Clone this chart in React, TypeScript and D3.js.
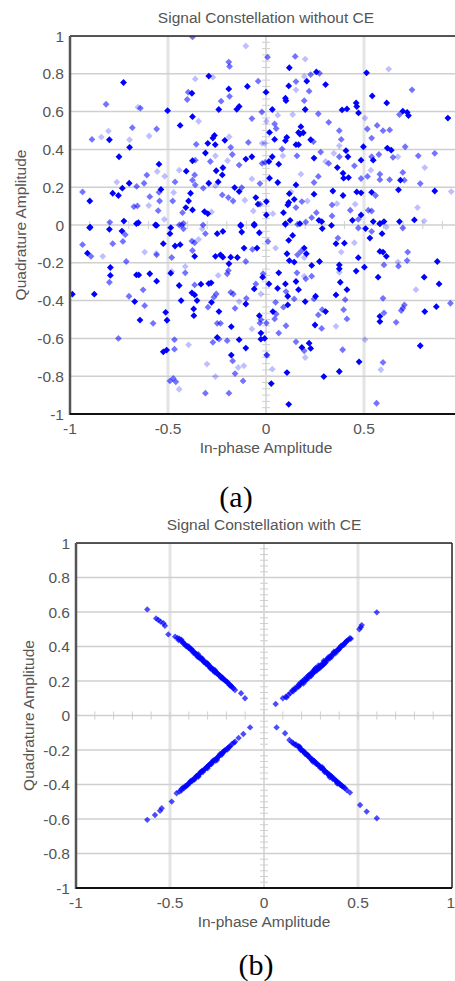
import React from 'react';
import * as d3 from 'd3';

// ---------- axis ticks ----------
const yTickValues = [-1, -0.8, -0.6, -0.4, -0.2, 0, 0.2, 0.4, 0.6, 0.8, 1];
const yTickLabels = ['-1', '-0.8', '-0.6', '-0.4', '-0.2', '0', '0.2', '0.4', '0.6', '0.8', '1'];
const xTickValues = [-1, -0.5, 0, 0.5, 1];
const xTickLabels = ['-1', '-0.5', '0', '0.5', '1'];

// ---------- (a) without CE : [I, Q] pairs grouped by marker shade ----------
const topDark: [number, number][] = [
  [-0.292,0.788],[-0.727,0.754],[-0.095,0.733],[-0.19,0.72],[-0.378,0.697],[-0.241,0.611],[-0.137,0.627],[-0.149,0.612],
  [-0.502,0.605],[-0.375,0.573],[-0.438,0.527],[-0.799,0.451],[-0.696,0.411],[-0.263,0.474],[-0.271,0.46],[-0.21,0.448],
  [-0.297,0.432],[-0.259,0.425],[-0.75,0.361],[-0.309,0.381],[-0.103,0.349],[-0.072,0.361],[-0.375,0.34],[-0.546,0.322],
  [-0.407,0.285],[-0.254,0.287],[-0.22,0.303],[-0.223,0.265],[-0.292,0.221],[-0.244,0.228],[-0.698,0.221],[-0.733,0.195],
  [-0.536,0.188],[-0.782,0.168],[-0.753,0.156],[-0.385,0.168],[-0.16,0.198],[-0.137,0.177],[-0.052,0.145],[-0.041,0.11],
  [-0.899,0.127],[-0.395,0.127],[-0.409,0.092],[-0.375,0.08],[-0.314,0.071],[-0.297,0.06],[-0.725,0.021],[-0.651,0.012],
  [-0.564,0.0],[-0.129,0.0],[-0.06,0.004],[-0.9,-0.014],
  [0.119,0.832],[0.513,0.805],[0.257,0.81],[0.208,0.761],[0.116,0.736],[0.304,0.743],[0.0,0.703],[0.099,0.671],[0.102,0.658],
  [0.542,0.683],[0.616,0.646],[0.46,0.646],[0.463,0.627],[0.388,0.609],[0.413,0.614],[0.472,0.593],[0.032,0.611],[0.2,0.611],
  [0.698,0.602],[0.72,0.596],[0.727,0.579],[0.928,0.566],[0.018,0.49],[0.178,0.52],[0.166,0.49],[0.19,0.488],[0.173,0.481],
  [0.106,0.464],[0.099,0.446],[0.044,0.453],[0.228,0.451],[0.166,0.425],[0.153,0.425],[0.497,0.414],[0.619,0.407],[0.639,0.396],
  [0.408,0.393],[0.032,0.361],[0.245,0.354],[0.418,0.361],[0.485,0.343],[0.547,0.343],[0.015,0.336],[0.065,0.322],[0.364,0.304],
  [0.393,0.274],[0.421,0.251],[0.396,0.248],[0.018,0.248],[0.686,0.237],[0.06,0.225],[0.153,0.212],[0.861,0.18],[0.676,0.186],
  [0.341,0.18],[0.463,0.175],[0.485,0.17],[0.119,0.166],[0.245,0.163],[0.393,0.156],[0.539,0.173],[0.002,0.124],[0.144,0.136],
  [0.116,0.119],[0.111,0.106],[0.089,0.065],[0.002,0.053],[0.485,0.053],[0.27,0.025],[0.284,0.018],[0.123,0.025],[0.099,0.004],
  [0.441,0.025],[0.547,0.018],[0.581,0.007],[0.602,0.018],[0.681,0.018],[0.757,0.027],
  [-0.897,-0.012],[-0.799,-0.023],[-0.735,-0.032],[-0.661,0.007],[-0.558,-0.002],[-0.486,-0.014],[-0.49,-0.046],[-0.249,-0.046],
  [-0.22,-0.034],[-0.129,-0.005],[-0.124,-0.037],[-0.06,-0.002],[-0.034,-0.041],[-0.524,-0.099],[-0.464,-0.111],[-0.438,-0.104],
  [-0.911,-0.149],[-0.364,-0.166],[-0.258,-0.166],[-0.232,-0.158],[-0.22,-0.17],[-0.18,-0.17],[-0.146,-0.172],[-0.189,-0.205],
  [-0.046,-0.122],[-0.112,-0.122],[-0.794,-0.225],[-0.794,-0.267],[-0.661,-0.264],[-0.649,-0.264],[-0.593,-0.258],[-0.558,-0.297],
  [-0.486,-0.255],[-0.443,-0.32],[-0.332,-0.313],[-0.292,-0.31],[-0.28,-0.306],[-0.017,-0.276],[-0.988,-0.366],[-0.876,-0.366],
  [-0.67,-0.405],[-0.433,-0.4],[-0.378,-0.359],[-0.364,-0.37],[-0.352,-0.4],[-0.278,-0.409],[-0.24,-0.458],[-0.103,-0.418],
  [-0.06,-0.338],[-0.369,-0.444],[-0.368,-0.48],[-0.512,-0.462],[-0.505,-0.504],[-0.643,-0.503],[-0.177,-0.538],[-0.034,-0.48],
  [-0.026,-0.572],[-0.249,-0.595],[-0.137,-0.607],[-0.026,-0.604],[-0.524,-0.671],[-0.507,-0.662],[-0.103,-0.651],[-0.177,-0.688],
  [0.099,0.007],[0.173,0.007],[0.287,-0.019],[0.334,-0.002],[0.508,-0.019],[0.581,0.007],[0.136,-0.055],[0.116,-0.081],
  [0.107,-0.152],[0.195,-0.122],[0.206,-0.152],[0.357,-0.099],[0.4,-0.096],[0.53,-0.069],[0.592,-0.046],[0.471,-0.173],
  [0.581,-0.14],[0.597,-0.143],[0.614,-0.166],[0.874,-0.193],[0.119,-0.188],[0.144,-0.196],[0.233,-0.214],[0.273,-0.193],
  [0.374,-0.211],[0.374,-0.232],[0.502,-0.223],[0.46,-0.244],[0.572,-0.276],[0.807,-0.276],[0.883,-0.312],[0.065,-0.253],
  [0.015,-0.312],[0.059,-0.335],[0.099,-0.312],[0.153,-0.299],[0.379,-0.303],[0.413,-0.342],[0.166,-0.342],[0.111,-0.377],
  [0.2,-0.405],[0.253,-0.377],[0.357,-0.37],[0.111,-0.423],[0.035,-0.458],[0.304,-0.458],[0.581,-0.483],[0.581,-0.511],
  [0.81,-0.458],[0.869,-0.432],[0.25,-0.529],[-0.007,-0.6],[0.183,-0.648],[0.22,-0.625],[0.228,-0.653],[0.787,-0.639],
  [0.475,-0.724],[0.107,-0.781],[0.295,-0.802],[0.374,-0.775],[0.027,-0.839],[0.116,-0.949],
];

const topMid: [number, number][] = [
  [-0.375,0.995],[-0.19,0.862],[-0.186,0.839],[-0.04,0.761],[-0.397,0.703],[-0.186,0.681],[-0.402,0.664],[-0.229,0.655],
  [-0.816,0.639],[-0.641,0.618],[-0.021,0.598],[-0.072,0.563],[-0.682,0.515],[-0.558,0.508],[-0.888,0.453],[-0.356,0.427],
  [-0.18,0.411],[-0.09,0.437],[-0.172,0.373],[-0.361,0.343],[-0.284,0.336],[-0.02,0.326],[-0.364,0.265],[-0.137,0.317],
  [-0.608,0.264],[-0.031,0.219],[-0.464,0.228],[-0.375,0.237],[-0.361,0.212],[-0.622,0.221],[-0.66,0.204],[-0.546,0.173],
  [-0.936,0.175],[-0.593,0.15],[-0.32,0.195],[-0.124,0.198],[-0.223,0.159],[-0.192,0.145],[-0.168,0.127],[-0.674,0.097],
  [-0.656,0.101],[-0.543,0.127],[-0.476,0.127],[-0.55,0.076],[-0.426,0.065],[-0.797,0.014],[-0.442,0.0],[-0.421,0.009],
  [-0.321,0.0],[-0.03,0.11],
  [0.008,0.888],[0.149,0.892],[0.273,0.803],[0.228,0.796],[0.153,0.759],[0.22,0.708],[0.745,0.715],[0.195,0.658],[0.681,0.584],
  [0.267,0.588],[0.044,0.535],[0.32,0.543],[0.567,0.527],[0.052,0.51],[0.517,0.508],[0.374,0.499],[0.597,0.499],[0.631,0.503],
  [0.242,0.441],[0.384,0.453],[0.539,0.46],[0.082,0.402],[0.71,0.414],[0.279,0.386],[0.158,0.366],[0.374,0.361],[0.539,0.361],
  [0.576,0.373],[0.648,0.358],[0.777,0.366],[0.861,0.379],[-0.005,0.331],[0.32,0.326],[0.451,0.313],[0.267,0.257],[0.581,0.269],
  [0.698,0.278],[0.485,0.246],[0.518,0.257],[0.581,0.24],[0.631,0.24],[0.706,0.237],[0.245,0.225],[0.787,0.219],[0.559,0.156],
  [0.183,0.124],[0.153,0.092],[0.337,0.106],[0.522,0.078],[0.539,0.074],[0.43,0.078],[0.257,0.065],[0.337,0.048],[0.233,0.039],
  [0.161,0.004],[0.203,0.016],[0.471,0.03],
  [-0.718,-0.051],[-0.43,0.0],[-0.421,-0.02],[-0.309,-0.046],[-0.936,-0.104],[-0.782,-0.099],[-0.73,-0.087],[-0.378,-0.085],
  [-0.364,-0.094],[-0.375,-0.135],[-0.893,-0.166],[-0.713,-0.193],[-0.558,-0.158],[-0.481,-0.172],[-0.103,-0.193],[-0.069,-0.129],
  [-0.799,-0.303],[-0.412,-0.253],[-0.364,-0.317],[-0.198,-0.258],[-0.192,-0.241],[-0.052,-0.312],[-0.699,-0.377],[-0.627,-0.343],
  [-0.619,-0.427],[-0.266,-0.382],[-0.254,-0.365],[-0.296,-0.435],[-0.18,-0.356],[-0.167,-0.365],[-0.158,-0.441],[-0.1,-0.388],
  [-0.576,-0.52],[-0.249,-0.52],[-0.232,-0.52],[-0.026,-0.501],[-0.031,-0.519],[-0.753,-0.6],[-0.467,-0.607],[-0.24,-0.604],
  [-0.198,-0.612],[-0.271,-0.621],[-0.467,-0.657],[-0.17,-0.719],[-0.158,-0.786],[-0.49,-0.825],[-0.473,-0.812],[-0.46,-0.83],
  [-0.117,-0.825],[-0.309,-0.89],[-0.189,-0.89],[0.003,-0.688],
  [0.471,-0.016],[0.539,-0.034],[0.698,-0.016],[0.01,-0.087],[0.178,-0.14],[0.161,-0.158],[0.367,-0.069],[0.602,-0.211],
  [0.723,-0.143],[0.72,-0.188],[0.676,-0.218],[-0.015,-0.258],[0.158,-0.253],[0.233,-0.271],[0.203,-0.285],[0.102,-0.352],
  [0.144,-0.391],[0.245,-0.391],[0.404,-0.395],[0.597,-0.388],[0.049,-0.409],[0.089,-0.435],[0.052,-0.471],[0.044,-0.497],
  [0.287,-0.448],[0.267,-0.476],[0.396,-0.448],[0.413,-0.497],[0.602,-0.465],[0.69,-0.453],[0.698,-0.44],[0.706,-0.423],
  [0.941,-0.414],[0.664,-0.515],[0.002,-0.519],[0.102,-0.533],[0.065,-0.572],[0.284,-0.547],[0.153,-0.618],[0.195,-0.666],
  [0.391,-0.66],[0.005,-0.688],[0.597,-0.727],[0.564,-0.943],
];

const topLight: [number, number][] = [
  [-0.103,0.947],[-0.271,0.782],[-0.361,0.773],[-0.653,0.623],[-0.344,0.549],[-0.804,0.497],[-0.84,0.465],[-0.596,0.471],
  [-0.696,0.451],[-0.188,0.467],[-0.02,0.432],[-0.258,0.366],[-0.196,0.34],[-0.443,0.29],[-0.555,0.283],[-0.517,0.258],
  [-0.072,0.244],[-0.761,0.227],[-0.471,0.172],[-0.258,0.207],[-0.108,0.131],[-0.598,0.103],[-0.278,0.069],[-0.065,0.074],
  [-0.519,0.03],
  [0.2,0.878],[0.195,0.786],[0.626,0.825],[0.153,0.715],[0.06,0.581],[0.136,0.584],[0.505,0.566],[0.002,0.549],[-0.007,0.432],
  [0.374,0.419],[0.346,0.379],[0.086,0.366],[0.673,0.361],[0.304,0.336],[0.535,0.29],[0.81,0.304],[0.178,0.269],[0.945,0.177],
  [0.128,0.175],[0.211,0.127],[0.362,0.113],[0.455,0.11],[0.773,0.092],[0.035,0.06],[0.807,0.021],
  [-0.326,-0.02],[-0.344,-0.076],[-0.619,-0.143],[-0.833,-0.166],[-0.56,-0.15],[-0.244,-0.267],[-0.481,-0.246],[-0.412,-0.22],
  [-0.026,-0.365],[-0.137,-0.405],[-0.072,-0.55],[-0.395,-0.634],[-0.142,-0.754],[-0.113,-0.745],[-0.301,-0.736],[-0.258,-0.802],
  [-0.443,-0.869],
  [0.614,-0.011],[0.049,-0.122],[0.195,-0.172],[0.384,-0.143],[0.451,-0.094],[0.673,-0.196],[0.374,-0.25],[0.195,-0.271],
  [0.765,-0.342],[0.357,-0.536],[0.2,-0.701],[0.505,-0.607],[0.586,-0.766],[0.032,-0.763],
];

// ---------- (b) with CE : four arms ----------
const armUpperLeft: [number, number][] = [
  [-0.621,0.615],[-0.574,0.563],[-0.562,0.554],[-0.55,0.544],[-0.535,0.535],[-0.527,0.52],[-0.509,0.47],[-0.473,0.457],
  [-0.46,0.45],[-0.45,0.445],[-0.44,0.43],[-0.432,0.428],[-0.425,0.415],[-0.418,0.41],[-0.41,0.405],[-0.402,0.392],
  [-0.395,0.39],[-0.388,0.38],[-0.38,0.375],[-0.372,0.368],[-0.366,0.36],[-0.36,0.352],[-0.352,0.348],[-0.345,0.34],
  [-0.338,0.332],[-0.33,0.326],[-0.325,0.318],[-0.318,0.312],[-0.31,0.305],[-0.303,0.3],[-0.297,0.29],[-0.29,0.286],
  [-0.283,0.278],[-0.277,0.272],[-0.27,0.268],[-0.264,0.258],[-0.258,0.255],[-0.25,0.246],[-0.243,0.24],[-0.236,0.232],
  [-0.23,0.226],[-0.222,0.22],[-0.215,0.21],[-0.208,0.205],[-0.2,0.198],[-0.193,0.19],[-0.185,0.18],[-0.178,0.176],
  [-0.17,0.165],[-0.163,0.158],[-0.4,0.4],[-0.35,0.355],[-0.3,0.302],[-0.26,0.262],[-0.22,0.215],[-0.34,0.33],
  [-0.28,0.275],[-0.154,0.148],[-0.122,0.129],[-0.101,0.1],
  [-0.455,0.437],[-0.43,0.42],[-0.415,0.402],[-0.405,0.398],[-0.39,0.385],[-0.375,0.362],[-0.362,0.358],[-0.348,0.338],
  [-0.335,0.335],[-0.32,0.31],[-0.308,0.298],[-0.295,0.295],[-0.285,0.272],[-0.272,0.262],[-0.262,0.25],[-0.248,0.24],
  [-0.24,0.235],[-0.228,0.218],[-0.218,0.215],[-0.205,0.2],[-0.196,0.195],[-0.182,0.175],[-0.175,0.17],[-0.44,0.44],
  [-0.385,0.385],[-0.31,0.31],[-0.268,0.262],[-0.355,0.342],[-0.328,0.33],[-0.29,0.282],[-0.255,0.25],
];
const armUpperRight: [number, number][] = [
  [0.062,0.067],[0.1,0.1],[0.115,0.108],[0.13,0.12],[0.14,0.13],[0.15,0.145],[0.155,0.14],[0.165,0.16],[0.17,0.155],
  [0.18,0.17],[0.185,0.18],[0.19,0.175],[0.2,0.19],[0.205,0.2],[0.21,0.195],[0.215,0.21],[0.22,0.205],[0.225,0.22],
  [0.23,0.215],[0.235,0.23],[0.24,0.222],[0.245,0.24],[0.25,0.235],[0.255,0.25],[0.26,0.243],[0.262,0.258],[0.268,0.252],
  [0.272,0.265],[0.277,0.26],[0.28,0.272],[0.285,0.268],[0.29,0.28],[0.295,0.274],[0.3,0.29],[0.305,0.285],[0.31,0.3],
  [0.315,0.294],[0.32,0.31],[0.325,0.305],[0.33,0.318],[0.335,0.325],[0.34,0.33],[0.348,0.335],[0.355,0.345],[0.36,0.352],
  [0.368,0.356],[0.375,0.365],[0.382,0.372],[0.39,0.378],[0.398,0.388],[0.405,0.395],[0.412,0.4],[0.42,0.41],[0.428,0.418],
  [0.435,0.425],[0.442,0.433],[0.45,0.44],[0.457,0.448],[0.462,0.445],[0.507,0.5],[0.515,0.512],[0.52,0.524],[0.6,0.598],
  [0.21,0.185],[0.225,0.205],[0.24,0.235],[0.25,0.228],[0.265,0.25],[0.27,0.268],[0.282,0.262],[0.29,0.29],[0.3,0.28],
  [0.312,0.292],[0.318,0.318],[0.33,0.31],[0.342,0.338],[0.35,0.33],[0.36,0.34],[0.372,0.37],[0.38,0.36],[0.395,0.38],
  [0.41,0.405],[0.425,0.41],[0.438,0.43],[0.185,0.168],[0.195,0.19],[0.275,0.275],[0.295,0.283],[0.32,0.3],[0.4,0.385],
  [0.16,0.15],[0.12,0.105],
];
const armLowerLeft: [number, number][] = [
  [-0.074,-0.069],[-0.11,-0.107],[-0.135,-0.13],[-0.154,-0.152],[-0.17,-0.165],[-0.18,-0.178],[-0.19,-0.185],[-0.2,-0.195],
  [-0.208,-0.205],[-0.215,-0.21],[-0.222,-0.22],[-0.23,-0.225],[-0.238,-0.235],[-0.245,-0.24],[-0.252,-0.25],[-0.26,-0.255],
  [-0.267,-0.262],[-0.275,-0.27],[-0.282,-0.28],[-0.29,-0.284],[-0.297,-0.292],[-0.305,-0.3],[-0.312,-0.308],[-0.32,-0.315],
  [-0.327,-0.322],[-0.335,-0.33],[-0.343,-0.338],[-0.35,-0.345],[-0.358,-0.35],[-0.365,-0.36],[-0.372,-0.368],[-0.38,-0.372],
  [-0.388,-0.38],[-0.395,-0.39],[-0.402,-0.395],[-0.41,-0.404],[-0.42,-0.41],[-0.43,-0.418],[-0.25,-0.258],[-0.3,-0.306],
  [-0.35,-0.355],[-0.22,-0.214],[-0.33,-0.322],[-0.28,-0.274],[-0.45,-0.441],[-0.465,-0.451],[-0.491,-0.499],[-0.544,-0.538],
  [-0.553,-0.552],[-0.58,-0.577],[-0.621,-0.605],
  [-0.185,-0.182],[-0.195,-0.198],[-0.21,-0.202],[-0.225,-0.228],[-0.235,-0.225],[-0.248,-0.245],[-0.258,-0.262],[-0.27,-0.26],
  [-0.28,-0.282],[-0.292,-0.288],[-0.3,-0.295],[-0.315,-0.31],[-0.325,-0.328],[-0.338,-0.328],[-0.348,-0.35],[-0.36,-0.352],
  [-0.37,-0.372],[-0.382,-0.38],[-0.392,-0.382],[-0.405,-0.402],[-0.415,-0.41],[-0.425,-0.42],[-0.438,-0.425],[-0.44,-0.435],
  [-0.16,-0.158],
];
const armLowerRight: [number, number][] = [
  [0.067,-0.069],[0.112,-0.103],[0.135,-0.142],[0.156,-0.161],[0.17,-0.168],[0.18,-0.18],[0.19,-0.186],[0.198,-0.198],
  [0.205,-0.205],[0.212,-0.21],[0.22,-0.22],[0.228,-0.225],[0.235,-0.235],[0.242,-0.24],[0.25,-0.25],[0.257,-0.255],
  [0.265,-0.262],[0.272,-0.27],[0.28,-0.278],[0.287,-0.284],[0.295,-0.292],[0.302,-0.3],[0.31,-0.308],[0.318,-0.315],
  [0.325,-0.322],[0.333,-0.33],[0.34,-0.338],[0.348,-0.342],[0.355,-0.35],[0.362,-0.358],[0.37,-0.364],[0.378,-0.372],
  [0.385,-0.38],[0.393,-0.386],[0.4,-0.394],[0.408,-0.4],[0.415,-0.408],[0.423,-0.414],[0.26,-0.268],[0.31,-0.3],
  [0.35,-0.358],[0.23,-0.232],[0.39,-0.395],[0.44,-0.432],[0.457,-0.447],[0.511,-0.519],[0.546,-0.557],[0.6,-0.596],
  [0.165,-0.17],[0.185,-0.178],[0.195,-0.2],[0.21,-0.205],[0.218,-0.222],[0.232,-0.228],[0.245,-0.248],[0.255,-0.26],
  [0.268,-0.265],[0.278,-0.282],[0.29,-0.29],[0.3,-0.305],[0.315,-0.31],[0.322,-0.328],[0.336,-0.333],[0.345,-0.348],
  [0.358,-0.352],[0.366,-0.368],[0.38,-0.376],[0.39,-0.39],[0.405,-0.402],[0.418,-0.412],[0.43,-0.42],[0.19,-0.182],
  [0.148,-0.155],
];

const FONT = "'Liberation Sans', Arial, sans-serif";
const TEXT = '#555';
const PAGE_W = 455;

type Layer = { pts: [number, number][]; opacity: number };

function diamond(r: number) {
  return `M0,${-r}L${r},0L0,${r}L${-r},0Z`;
}

function Panel(props: {
  id: string; title: string; left: number; right: number; top: number; bottom: number;
  visRight: number; layers: Layer[]; r: number; yTitleX: number; rightBorder: boolean;
}) {
  const { id, title, left, right, top, bottom, visRight, layers, r, yTitleX, rightBorder } = props;
  const x = d3.scaleLinear().domain([-1, 1]).range([left, right]);
  const y = d3.scaleLinear().domain([-1, 1]).range([bottom, top]);
  const minorY = d3.range(-30, 31).map((k) => k / 30);
  const minorX = d3.range(-10, 11).map((k) => k / 10);
  const cx = (left + right) / 2;
  const cy = (top + bottom) / 2;
  const path = diamond(r);
  return (
    <g>
      <defs>
        <clipPath id={id}>
          <rect x={left} y={top} width={visRight - left} height={bottom - top} />
        </clipPath>
      </defs>
      <g clipPath={`url(#${id})`}>
        {[-0.5, 0.5].map((v) => (
          <line key={'vg' + v} x1={x(v)} x2={x(v)} y1={top} y2={bottom} stroke="#e4e4e4" strokeWidth={3} />
        ))}
        {yTickValues.map((v) => (
          <line key={'hg' + v} x1={left} x2={right} y1={y(v)} y2={y(v)} stroke="#cfcfcf" strokeWidth={1.5} />
        ))}
        <line x1={x(0)} x2={x(0)} y1={top} y2={bottom} stroke="#dcdcdc" strokeWidth={2} />
        {minorY.map((v) => (
          <line key={'my' + v} x1={x(0) - 4} x2={x(0) + 4} y1={y(v)} y2={y(v)} stroke="#cfcfcf" strokeWidth={1} />
        ))}
        {minorX.map((v) => (
          <line key={'mx' + v} x1={x(v)} x2={x(v)} y1={y(0) - 4} y2={y(0) + 4} stroke="#cfcfcf" strokeWidth={1} />
        ))}
        {layers.map((layer, li) => (
          <g key={'l' + li} fill="#0000ff" fillOpacity={layer.opacity}>
            {layer.pts.map((p, i) => (
              <path key={i} d={path} transform={`translate(${x(p[0])},${y(p[1])})`} />
            ))}
          </g>
        ))}
      </g>
      {/* frame */}
      <line x1={left} x2={visRight} y1={top} y2={top} stroke="#222" strokeWidth={1.5} />
      {rightBorder && <line x1={right} x2={right} y1={top} y2={bottom} stroke="#222" strokeWidth={1.5} />}
      <line x1={left} x2={left} y1={top} y2={bottom + 1} stroke="#555" strokeWidth={2.5} />
      <line x1={left} x2={visRight} y1={bottom} y2={bottom} stroke="#111" strokeWidth={2} />
      {/* tick labels */}
      {yTickValues.map((v, i) => (
        <text key={'yt' + v} x={left - 6} y={y(v)} dy="0.36em" textAnchor="end" fontFamily={FONT} fontSize={15.5} fill={TEXT}>
          {yTickLabels[i]}
        </text>
      ))}
      {xTickValues.map((v, i) => {
        const px = x(v);
        if (px > visRight + 1) return null; // outside the visible (cropped) plot area
        const nearEdge = px + 5 > PAGE_W;
        return (
          <text key={'xt' + v} x={nearEdge ? PAGE_W : px} y={bottom + 20} textAnchor={nearEdge ? 'end' : 'middle'}
            fontFamily={FONT} fontSize={15.5} fill={TEXT}>
            {xTickLabels[i]}
          </text>
        );
      })}
      <text x={cx} y={top - 13} textAnchor="middle" fontFamily={FONT} fontSize={15.5} fill={TEXT}>{title}</text>
      <text x={cx} y={bottom + 39} textAnchor="middle" fontFamily={FONT} fontSize={15.5} fill={TEXT}>In-phase Amplitude</text>
      <text transform={`translate(${yTitleX},${cy}) rotate(-90)`} textAnchor="middle" dy="0.36em" fontFamily={FONT} fontSize={15.5} fill={TEXT}>
        Quadrature Amplitude
      </text>
    </g>
  );
}

export default function App() {
  const H = 981;
  return (
    <svg width={PAGE_W} height={H} style={{ position: 'absolute', left: 0, top: 0, background: '#fff' }}>
      <rect x={0} y={0} width={PAGE_W} height={H} fill="#fff" />
      <Panel
        id="clipA" title="Signal Constellation without CE"
        left={70} right={462} top={36} bottom={414} visRight={455}
        layers={[
          { pts: topLight, opacity: 0.25 },
          { pts: topMid, opacity: 0.55 },
          { pts: topDark, opacity: 1 },
        ]}
        r={3.4} yTitleX={20} rightBorder={false}
      />
      <text x={236} y={507} textAnchor="middle" fontFamily="'Liberation Serif', 'Times New Roman', serif" fontSize={30} fill="#000">(a)</text>
      <Panel
        id="clipB" title="Signal Constellation with CE"
        left={76} right={452} top={543} bottom={888} visRight={452}
        layers={[
          { pts: armUpperLeft, opacity: 0.7 },
          { pts: armUpperRight, opacity: 0.7 },
          { pts: armLowerLeft, opacity: 0.7 },
          { pts: armLowerRight, opacity: 0.7 },
        ]}
        r={3.2} yTitleX={28} rightBorder={true}
      />
      <text x={256} y={975} textAnchor="middle" fontFamily="'Liberation Serif', 'Times New Roman', serif" fontSize={30} fill="#000">(b)</text>
    </svg>
  );
}
